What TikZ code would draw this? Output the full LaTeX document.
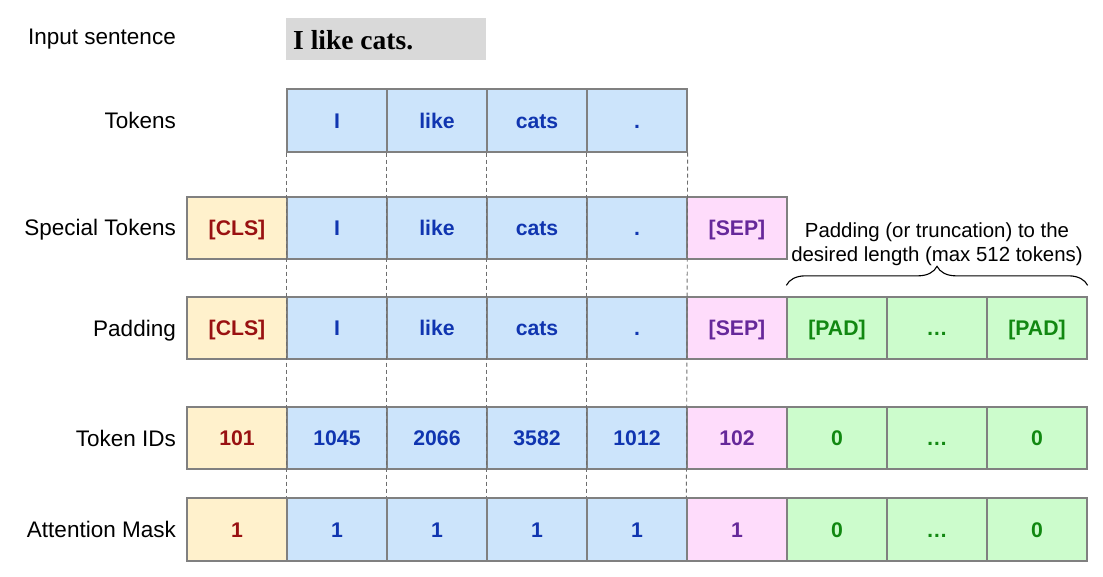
\documentclass[tikz,border=0pt]{standalone}
\usepackage{fontspec}
\setmainfont{Liberation Sans}
\newfontfamily\serifbold{Liberation Serif}
\usetikzlibrary{decorations.pathreplacing}
\definecolor{bordergray}{HTML}{808080}
\definecolor{dashgray}{HTML}{6E6E6E}
\definecolor{sentgray}{HTML}{D9D9D9}
\definecolor{bluefill}{HTML}{CCE4FB}
\definecolor{bluetext}{HTML}{1035B0}
\definecolor{clsfill}{HTML}{FFF1CC}
\definecolor{clstext}{HTML}{991111}
\definecolor{sepfill}{HTML}{FEDCFB}
\definecolor{septext}{HTML}{66289A}
\definecolor{padfill}{HTML}{CCFCCC}
\definecolor{padtext}{HTML}{118811}
\tikzset{
  cell/.style={rectangle, draw=bordergray, line width=1.3pt, minimum width=100pt,
    minimum height=62pt, inner sep=0pt, text height=15.2pt, text depth=0pt,
    font=\fontsize{21.2}{25}\selectfont\bfseries},
  tokcell/.style={cell, fill=bluefill, text=bluetext},
  clscell/.style={cell, fill=clsfill, text=clstext},
  sepcell/.style={cell, fill=sepfill, text=septext},
  padcell/.style={cell, fill=padfill, text=padtext},
  rowlabel/.style={anchor=base east, inner sep=0pt, font=\fontsize{22.5}{26}\selectfont},
  guide/.style={draw=dashgray, line width=0.9pt, dash pattern=on 4pt off 3pt},
}
\begin{document}
\begin{tikzpicture}[x=1pt, y=-1pt]
\useasboundingbox (0,0) rectangle (1103,577);
% input sentence
\node[rectangle, fill=sentgray, minimum width=200pt, minimum height=42pt, inner sep=0pt] (sent) at (386,39) {};
\node[anchor=base west, inner sep=0pt, font=\serifbold\fontsize{27.5}{30}\selectfont\bfseries] (senttext) at (293,49.5) {I like cats.};
% row labels
\node[rowlabel] (lin) at (176,45) {Input sentence};
\node[rowlabel] (ltok) at (176,128.5) {Tokens};
\node[rowlabel] (lspec) at (176,236) {Special Tokens};
\node[rowlabel] (lpad) at (176,336) {Padding};
\node[rowlabel] (lids) at (176,446) {Token IDs};
\node[rowlabel] (lmask) at (176,537.5) {Attention Mask};
% tokens row
\node[tokcell, minimum height=63pt] (t1) at (337,120.5) {I};
\node[tokcell, minimum height=63pt] (t2) at (437,120.5) {like};
\node[tokcell, minimum height=63pt] (t3) at (537,120.5) {cats};
\node[tokcell, minimum height=63pt] (t4) at (637,120.5) {.};
% special tokens row
\node[clscell] (s0) at (237,228) {[CLS]};
\node[tokcell] (s1) at (337,228) {I};
\node[tokcell] (s2) at (437,228) {like};
\node[tokcell] (s3) at (537,228) {cats};
\node[tokcell] (s4) at (637,228) {.};
\node[sepcell] (s5) at (737,228) {[SEP]};
% padding row
\node[clscell] (p0) at (237,328) {[CLS]};
\node[tokcell] (p1) at (337,328) {I};
\node[tokcell] (p2) at (437,328) {like};
\node[tokcell] (p3) at (537,328) {cats};
\node[tokcell] (p4) at (637,328) {.};
\node[sepcell] (p5) at (737,328) {[SEP]};
\node[padcell] (p6) at (837,328) {[PAD]};
\node[padcell] (p7) at (937,328) {\dots};
\node[padcell] (p8) at (1037,328) {[PAD]};
% token ids row
\node[clscell] (i0) at (237,438) {101};
\node[tokcell] (i1) at (337,438) {1045};
\node[tokcell] (i2) at (437,438) {2066};
\node[tokcell] (i3) at (537,438) {3582};
\node[tokcell] (i4) at (637,438) {1012};
\node[sepcell] (i5) at (737,438) {102};
\node[padcell] (i6) at (837,438) {0};
\node[padcell] (i7) at (937,438) {\dots};
\node[padcell] (i8) at (1037,438) {0};
% attention mask row
\node[clscell, minimum height=63pt] (m0) at (237,529.5) {1};
\node[tokcell, minimum height=63pt] (m1) at (337,529.5) {1};
\node[tokcell, minimum height=63pt] (m2) at (437,529.5) {1};
\node[tokcell, minimum height=63pt] (m3) at (537,529.5) {1};
\node[tokcell, minimum height=63pt] (m4) at (637,529.5) {1};
\node[sepcell, minimum height=63pt] (m5) at (737,529.5) {1};
\node[padcell, minimum height=63pt] (m6) at (837,529.5) {0};
\node[padcell, minimum height=63pt] (m7) at (937,529.5) {\dots};
\node[padcell, minimum height=63pt] (m8) at (1037,529.5) {0};
% dashed guides
\draw[guide] (t1.south west) -- (m1.north west);
\draw[guide] (t2.south west) -- (m2.north west);
\draw[guide] (t3.south west) -- (m3.north west);
\draw[guide] (t4.south west) -- (m4.north west);
\draw[guide] (t4.south east) -- (m5.north west);
% padding note and brace
\draw[line width=1.1pt, decorate, decoration={brace, amplitude=19pt, raise=11pt}]
  (p6.north west) -- (p8.north east);
\node[anchor=south, align=center, inner sep=0pt, font=\fontsize{20.4}{24}\selectfont] (note) at (937,266)
  {Padding (or truncation) to the\\desired length (max 512 tokens)};
\end{tikzpicture}
\end{document}
